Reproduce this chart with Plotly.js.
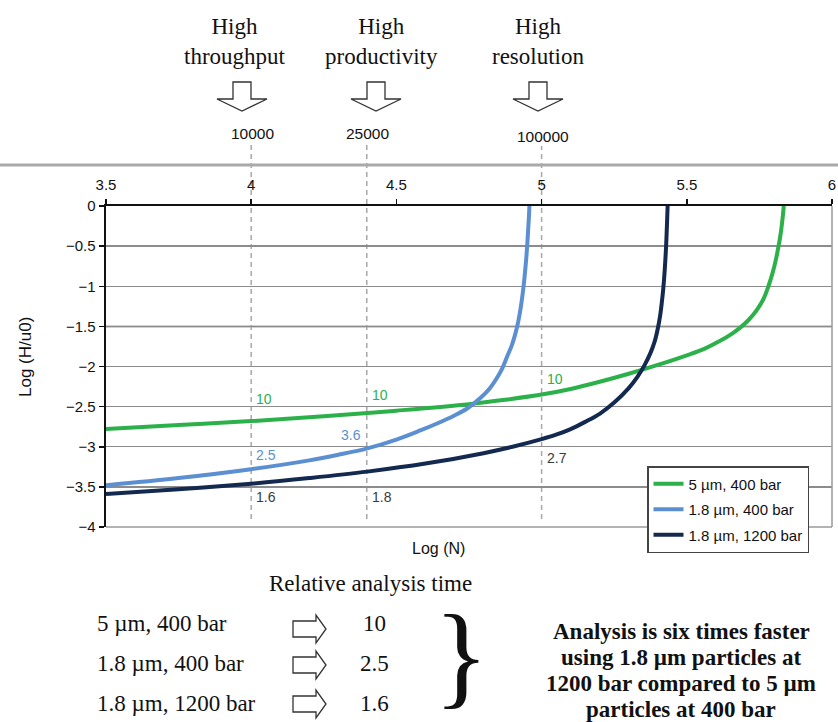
<!DOCTYPE html>
<html><head><meta charset="utf-8">
<script src="https://cdn.plot.ly/plotly-3.0.1.min.js"></script>
<style>html,body{margin:0;padding:0;background:#fff}#chart{width:838px;height:722px}</style>
</head><body><div id="chart"></div>
<script>
// ---------------- data ----------------
const seriesNames = ['5 µm, 400 bar', '1.8 µm, 400 bar', '1.8 µm, 1200 bar'];

const logN_5um_400 = [3.5, 3.75, 4.0, 4.25, 4.5, 4.75, 4.875, 5.0, 5.1, 5.2, 5.3, 5.4, 5.5, 5.56, 5.61, 5.66, 5.689, 5.71, 5.73, 5.746, 5.765, 5.781, 5.795, 5.806, 5.815, 5.823, 5.829, 5.834];
const logH_5um_400 = [-2.78, -2.73, -2.68, -2.62, -2.55, -2.47, -2.415, -2.35, -2.28, -2.19, -2.09, -1.98, -1.86, -1.78, -1.69, -1.58, -1.5, -1.43, -1.35, -1.27, -1.15, -1.0, -0.84, -0.68, -0.52, -0.35, -0.18, 0];

const logN_18um_400 = [3.5, 3.75, 4.0, 4.2, 4.3, 4.4, 4.5, 4.58, 4.64, 4.7, 4.745, 4.79, 4.822, 4.845, 4.865, 4.882, 4.897, 4.909, 4.919, 4.928, 4.936, 4.942, 4.947, 4.951, 4.954, 4.957, 4.958];
const logH_18um_400 = [-3.48, -3.39, -3.28, -3.17, -3.1, -3.02, -2.91, -2.8, -2.71, -2.61, -2.52, -2.39, -2.27, -2.15, -2.02, -1.87, -1.74, -1.6, -1.45, -1.27, -1.06, -0.86, -0.66, -0.46, -0.28, -0.09, 0];

const logN_18um_1200 = [3.5, 3.75, 4.0, 4.2, 4.4, 4.6, 4.8, 4.9, 5.0, 5.05, 5.1, 5.15, 5.2, 5.25, 5.3, 5.33, 5.355, 5.375, 5.39, 5.4, 5.408, 5.414, 5.419, 5.423, 5.426, 5.429, 5.431, 5.433, 5.434];
const logH_18um_1200 = [-3.59, -3.53, -3.46, -3.39, -3.31, -3.21, -3.08, -3.0, -2.905, -2.85, -2.78, -2.69, -2.59, -2.45, -2.27, -2.13, -1.98, -1.83, -1.68, -1.53, -1.37, -1.2, -1.03, -0.85, -0.68, -0.48, -0.3, -0.1, 0];

// plate numbers marked at the top
const plateNumbers = [10000, 25000, 100000];
const plateLabels = ['10000', '25000', '100000'];
const plateTitles = ['High<br>throughput', 'High<br>productivity', 'High<br>resolution'];

// relative analysis times read at each plate number
const relTime_5um_400 = ['10', '10', '10'];
const relTime_18um_400 = ['2.5', '3.6', ''];
const relTime_18um_1200 = ['1.6', '1.8', '2.7'];

// bottom summary table
const summaryRows = ['5 µm, 400 bar', '1.8 µm, 400 bar', '1.8 µm, 1200 bar'];
const summaryTimes = ['10', '2.5', '1.6'];
const summaryText = ['Analysis is six times faster', 'using 1.8 µm particles at', '1200 bar compared to 5 µm', 'particles at 400 bar'];

const xTicks = [3.5, 4, 4.5, 5, 5.5, 6];
const yTicks = [0, -0.5, -1, -1.5, -2, -2.5, -3, -3.5, -4];

// ---------------- styling / geometry ----------------
const colors = ['#2cb14a', '#5b8fd1', '#13294f'];
const W = 838, H = 722, L = 106, R = 832, T = 206, B = 527;
const X = px => (px - L) / (R - L);
const Y = py => (B - py) / (B - T);
const SANS = 'Liberation Sans, Arial, sans-serif';
const SERIF = 'Liberation Serif, Times New Roman, serif';

const series = [
  [logN_5um_400, logH_5um_400],
  [logN_18um_400, logH_18um_400],
  [logN_18um_1200, logH_18um_1200]
];
const traces = series.map((s, i) => ({
  type: 'scatter', mode: 'lines', x: s[0], y: s[1], name: seriesNames[i],
  legendgroup: 'g' + i,
  line: {color: colors[i], width: 4, shape: 'spline', smoothing: 1},
  hoverinfo: 'skip'
}));

const shapes = [];
const annotations = [];
const pathOf = pts => 'M' + pts.map(p => X(p[0]).toFixed(5) + ',' + Y(p[1]).toFixed(5)).join('L') + 'Z';

// long gray line above top axis
shapes.push({type: 'line', xref: 'paper', yref: 'paper', x0: X(0), x1: X(838), y0: Y(165), y1: Y(165), line: {color: '#a9a9a9', width: 3}});
// right & bottom gray frame
shapes.push({type: 'line', xref: 'paper', yref: 'paper', x0: 0, x1: 1, y0: 0, y1: 0, line: {color: '#9a9a9a', width: 1.5}});
shapes.push({type: 'line', xref: 'paper', yref: 'paper', x0: 1, x1: 1, y0: 0, y1: 1, line: {color: '#9a9a9a', width: 1.5}});
// darker gridline
shapes.push({type: 'line', xref: 'paper', yref: 'y', x0: 0, x1: 1, y0: -1.5, y1: -1.5, layer: 'below', line: {color: '#444', width: 1.5}});

// dashed verticals, labels, titles, arrows at top
const plateLabelY = [133, 133, 136];
const plateDashTop = [143, 143, 146];
const titleX = [235, 381, 538];
const arrowX = [242, 376, 538];
plateNumbers.forEach((n, i) => {
  const lx = Math.log10(n);
  const xp = (lx - 3.5) / 2.5;
  shapes.push({type: 'line', xref: 'paper', yref: 'paper', x0: xp, x1: xp, y0: Y(519), y1: Y(plateDashTop[i]), layer: 'below',
    line: {color: '#a8a8a8', width: 1.5, dash: '5px,4px'}});
  annotations.push({xref: 'paper', yref: 'paper', x: xp, xshift: 1, y: Y(plateLabelY[i]), text: plateLabels[i], showarrow: false,
    font: {family: SANS, size: 15.5, color: '#111'}, xanchor: 'center', yanchor: 'middle'});
  annotations.push({xref: 'paper', yref: 'paper', x: X(titleX[i]), y: Y(42), text: plateTitles[i], showarrow: false,
    font: {family: SERIF, size: 23, color: '#111'}, xanchor: 'center', yanchor: 'middle'});
  const cx = arrowX[i], top = 82;
  shapes.push({type: 'path', xref: 'paper', yref: 'paper', fillcolor: '#fff', line: {color: '#333', width: 1.3},
    path: pathOf([[cx - 9, top], [cx + 9, top], [cx + 9, top + 17], [cx + 25, top + 17], [cx, top + 29], [cx - 25, top + 17], [cx - 9, top + 17]])});
});

// relative-time labels on curves
const relSets = [relTime_5um_400, relTime_18um_400, relTime_18um_1200];
const relY = [[399, 395, 379], [455, 435, 0], [497, 497, 458]];
const relAnchor = [['left', 'left', 'left'], ['left', 'right', 'left'], ['left', 'left', 'left']];
const relColors = [colors[0], colors[1], '#3a3a3a'];
relSets.forEach((set, s) => {
  set.forEach((t, i) => {
    if (!t) return;
    const xp = (Math.log10(plateNumbers[i]) - 3.5) / 2.5;
    annotations.push({xref: 'paper', yref: 'paper', x: xp, y: Y(relY[s][i]), text: t, showarrow: false,
      xanchor: relAnchor[s][i], xshift: relAnchor[s][i] === 'left' ? 3 : -4, yanchor: 'middle',
      font: {family: SANS, size: 14, color: relColors[s]}});
  });
});

// axis titles
annotations.push({xref: 'paper', yref: 'paper', x: X(25), y: Y(357), text: 'Log (H/u0)', textangle: -90, showarrow: false,
  font: {family: SANS, size: 17, color: '#111'}, xanchor: 'center', yanchor: 'middle'});
annotations.push({xref: 'paper', yref: 'paper', x: X(438), y: Y(548), text: 'Log (N)', showarrow: false,
  font: {family: SANS, size: 16, color: '#111'}, xanchor: 'center', yanchor: 'middle'});

// bottom summary
annotations.push({xref: 'paper', yref: 'paper', x: X(370), y: Y(583), text: 'Relative analysis time', showarrow: false,
  font: {family: SERIF, size: 23, color: '#111'}, xanchor: 'center', yanchor: 'middle'});
const rowY = [623, 663, 703];
const arrowRowY = [629, 665, 704];
summaryRows.forEach((r, i) => {
  annotations.push({xref: 'paper', yref: 'paper', x: X(95), y: Y(rowY[i]), text: r, showarrow: false,
    font: {family: SERIF, size: 23, color: '#111'}, xanchor: 'left', yanchor: 'middle'});
  annotations.push({xref: 'paper', yref: 'paper', x: X(374), y: Y(rowY[i]), text: summaryTimes[i], showarrow: false,
    font: {family: SERIF, size: 23, color: '#111'}, xanchor: 'center', yanchor: 'middle'});
  const cy = arrowRowY[i];
  shapes.push({type: 'path', xref: 'paper', yref: 'paper', fillcolor: '#fff', line: {color: '#333', width: 1.3},
    path: pathOf([[293, cy - 8], [316, cy - 8], [316, cy - 14], [326, cy], [316, cy + 14], [316, cy + 8], [293, cy + 8]])});
});
annotations.push({xref: 'paper', yref: 'paper', x: X(461), y: Y(655), text: '}', showarrow: false,
  font: {family: SERIF, size: 114, color: '#111'}, xanchor: 'center', yanchor: 'middle'});
const sumY = [631, 657, 683, 709];
summaryText.forEach((t, i) => {
  annotations.push({xref: 'paper', yref: 'paper', x: X(681), y: Y(sumY[i]), text: '<b>' + t + '</b>', showarrow: false,
    font: {family: SERIF, size: 23, color: '#111'}, xanchor: 'center', yanchor: 'middle'});
});

const layout = {
  width: W, height: H,
  margin: {l: L, r: W - R, t: T, b: H - B, pad: 0},
  paper_bgcolor: '#fff', plot_bgcolor: 'rgba(0,0,0,0)',
  showlegend: true,
  legend: {x: X(647), y: Y(466), xanchor: 'left', yanchor: 'top', bgcolor: '#fff', bordercolor: '#444', borderwidth: 1.5,
    font: {family: SANS, size: 15, color: '#111'}, traceorder: 'grouped', tracegroupgap: 3},
  xaxis: {range: [3.5, 6], side: 'top', tickvals: xTicks, ticktext: xTicks.map(String), showgrid: false, zeroline: false,
    showline: true, linecolor: '#111', linewidth: 2.5, ticks: 'outside', ticklen: 5, tickcolor: '#111', tickwidth: 1.5,
    tickfont: {family: SANS, size: 15, color: '#111'}, ticklabelstandoff: 3, fixedrange: true},
  yaxis: {range: [-4, 0], tickvals: yTicks, showgrid: true, gridcolor: '#8c8c8c', gridwidth: 1.3, zeroline: false,
    showline: true, linecolor: '#111', linewidth: 2.5, ticks: 'outside', ticklen: 5, tickcolor: '#111', tickwidth: 1.5,
    tickfont: {family: SANS, size: 15, color: '#111'}, fixedrange: true},
  shapes: shapes,
  annotations: annotations
};

Plotly.newPlot('chart', traces, layout, {displayModeBar: false, staticPlot: true});
</script>
</body></html>
